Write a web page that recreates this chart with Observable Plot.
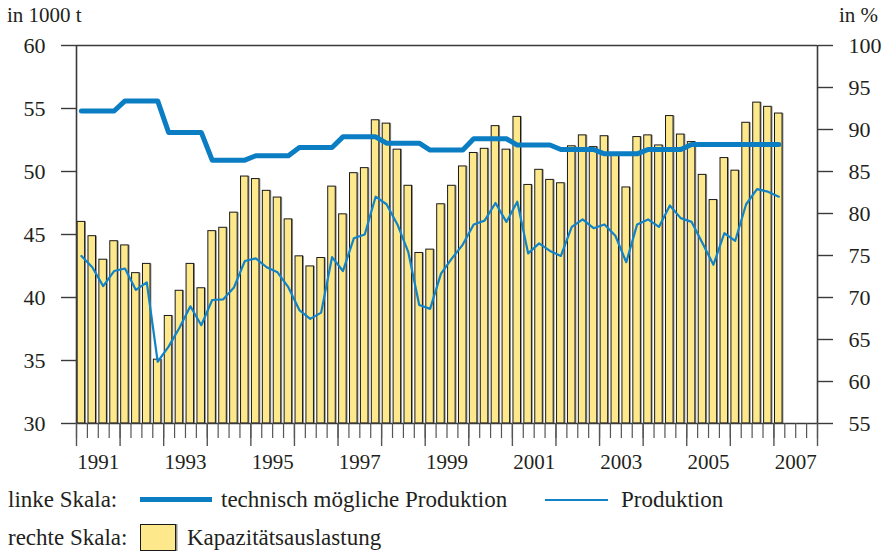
<!DOCTYPE html>
<html><head><meta charset="utf-8">
<script src="https://cdn.jsdelivr.net/npm/d3@7"></script>
<script src="https://cdn.jsdelivr.net/npm/@observablehq/plot@0.6"></script>
<style>
body{margin:0;background:#fff;}
#wrap{position:relative;width:887px;height:551px;font-family:'Liberation Serif','Times New Roman','DejaVu Serif',serif;color:#231f20;overflow:hidden;}
.lab{position:absolute;font-size:21px;line-height:1;white-space:nowrap;}
.leg{position:absolute;font-size:23px;line-height:1;white-space:nowrap;}
.sw{position:absolute;}
svg text{font-family:'Liberation Serif','Times New Roman','DejaVu Serif',serif !important;}
</style></head><body><div id="wrap"></div>
<script>
// ---- data ----
const startYear = 1991;               // first quarter = 1991 Q1, 65 quarters up to 2007 Q1
const yearLabels = ["1991","1993","1995","1997","1999","2001","2003","2005","2007"];
const leftTicks = [30, 35, 40, 45, 50, 55, 60];               // in 1000 t
const rightTicks = [55, 60, 65, 70, 75, 80, 85, 90, 95, 100];  // in %

// Kapazitätsauslastung (right scale, %)
const utilisation = [
  79.0, 77.3, 74.5, 76.7, 76.2, 72.9, 74.0, 62.6,
  67.8, 70.8, 74.0, 71.1, 77.9, 78.3, 80.1, 84.4,
  84.1, 82.7, 81.9, 79.3, 74.9, 73.7, 74.7, 83.2,
  79.9, 84.8, 85.4, 91.1, 90.7, 87.6, 83.3, 75.3,
  75.7, 81.1, 83.3, 85.6, 87.2, 87.7, 90.4, 87.6,
  91.5, 83.4, 85.2, 84.0, 83.6, 88.0, 89.3, 87.9,
  89.2, 87.0, 83.1, 89.1, 89.3, 88.1, 91.6, 89.4,
  88.5, 84.6, 81.6, 86.6, 85.1, 90.8, 93.2, 92.7,
  91.9
];
// Produktion (left scale, 1000 t)
const production = [
  43.3, 42.4, 40.9, 42.1, 42.3, 40.6, 41.2, 34.9,
  36.1, 37.6, 39.3, 37.8, 39.8, 39.85, 40.8, 42.9,
  43.1, 42.4, 42.0, 40.8, 39.0, 38.3, 38.8, 43.2,
  42.1, 44.7, 45.0, 48.0, 47.4, 45.8, 43.6, 39.4,
  39.1, 41.9, 43.1, 44.2, 45.8, 46.1, 47.5, 46.0,
  47.6, 43.5, 44.3, 43.7, 43.3, 45.6, 46.2, 45.5,
  45.8, 44.9, 42.8, 45.8, 46.2, 45.6, 47.3, 46.3,
  46.0, 44.3, 42.6, 45.1, 44.5, 47.4, 48.6, 48.4,
  48.0
];
// technisch mögliche Produktion (left scale, 1000 t)
const capacity = [
  54.8, 54.8, 54.8, 54.8, 55.6, 55.6, 55.6, 55.6,
  53.1, 53.1, 53.1, 53.1, 50.9, 50.9, 50.9, 50.9,
  51.25, 51.25, 51.25, 51.25, 51.9, 51.9, 51.9, 51.9,
  52.75, 52.75, 52.75, 52.75, 52.25, 52.25, 52.25, 52.25,
  51.7, 51.7, 51.7, 51.7, 52.6, 52.6, 52.6, 52.6,
  52.1, 52.1, 52.1, 52.1, 51.75, 51.75, 51.75, 51.75,
  51.4, 51.4, 51.4, 51.4, 51.75, 51.75, 51.75, 51.75,
  52.15, 52.15, 52.15, 52.15, 52.15, 52.15, 52.15, 52.15,
  52.15
];

// ---- helpers ----
const pctToLeft = p => 30 + (p - 55) / 1.5;
const leftToPct = v => 55 + (v - 30) * 1.5;
const rows = utilisation.map((u, i) => ({i, u: pctToLeft(u), prod: production[i], cap: capacity[i]}));
const nQuarters = (2007 - startYear + 1) * 4; // 68

const ink = "#231f20";
const blue = "#0b7ec3";
const yellow = "#fde98c";
const serif = "Liberation Serif, Times New Roman, DejaVu Serif, serif";

const chart = Plot.plot({
  width: 887,
  height: 480,
  marginTop: 45,
  marginBottom: 57,
  marginLeft: 76,
  marginRight: 70,
  style: {fontFamily: serif, fontSize: "21px", color: ink, background: "#fff"},
  x: {domain: [0, nQuarters]},
  y: {domain: [30, 60]},
  marks: [
    // bar shadow + bars
    Plot.rect(rows, {x1: d => d.i + 0.1, x2: d => d.i + 0.79, y1: 30, y2: "u", fill: "#8f8f8f", dx: 1.4}),
    Plot.rect(rows, {x1: d => d.i + 0.1, x2: d => d.i + 0.79, y1: 30, y2: "u", fill: yellow, stroke: "#1a1a1a", strokeWidth: 1}),
    // lines
    Plot.line(rows, {x: d => d.i + 0.45, y: "cap", stroke: blue, strokeWidth: 5, strokeLinejoin: "round"}),
    Plot.line(rows, {x: d => d.i + 0.45, y: "prod", stroke: "#1283c7", strokeWidth: 2.2, strokeLinejoin: "round"}),
    // frame
    Plot.ruleX([0, nQuarters], {stroke: "#3a3a3a", strokeWidth: 1.6}),
    Plot.ruleY([30, 60], {stroke: "#3a3a3a", strokeWidth: 1.6}),
    // left axis
    Plot.axisY(leftTicks, {anchor: "left", tickSize: 15, tickPadding: 16, tickFormat: d => String(d), label: null, stroke: "#3a3a3a", strokeWidth: 1.4, fontFamily: serif, fontSize: 22}),
    // right axis (percent)
    Plot.axisY(rightTicks.map(pctToLeft), {anchor: "right", tickSize: 15, tickPadding: 16, tickFormat: d => String(Math.round(leftToPct(d))), label: null, stroke: "#3a3a3a", strokeWidth: 1.4, fontFamily: serif, fontSize: 22}),
    // quarter ticks and year ticks
    Plot.axisX(d3.range(0, nQuarters + 1), {anchor: "bottom", tickSize: 15, tickFormat: () => "", label: null, stroke: "#555", strokeWidth: 1.2}),
    Plot.axisX(d3.range(0, nQuarters + 1, 4), {anchor: "bottom", tickSize: 23, tickFormat: () => "", label: null, stroke: "#555", strokeWidth: 1.4}),
    // year labels centred in their year
    Plot.axisX(yearLabels.map(y => (+y - startYear) * 4 + 2), {anchor: "bottom", tickSize: 0, tickPadding: 31, tickFormat: d => String(startYear + (d - 2) / 4), label: null, fontFamily: serif, fontSize: 21})
  ]
});

const wrap = document.getElementById("wrap");
wrap.appendChild(chart);

function addDiv(cls, text, left, top, extra) {
  const el = document.createElement("div");
  el.className = cls;
  if (text) el.textContent = text;
  el.style.left = left + "px";
  el.style.top = top + "px";
  if (extra) Object.assign(el.style, extra);
  wrap.appendChild(el);
  return el;
}
// axis titles
addDiv("lab", "in 1000 t", 7, 5);
addDiv("lab", "in %", 839, 5);
// legend
addDiv("leg", "linke Skala:", 8, 488);
addDiv("sw", "", 140, 497, {width: "72px", height: "5px", background: blue});
addDiv("leg", "technisch mögliche Produktion", 221, 488);
addDiv("sw", "", 545, 499, {width: "63px", height: "2px", background: "#1283c7"});
addDiv("leg", "Produktion", 621, 488);
addDiv("leg", "rechte Skala:", 8, 526);
addDiv("sw", "", 140, 524, {width: "34px", height: "25px", background: yellow, border: "1px solid #1a1a1a", boxShadow: "1.5px 0 0 #8f8f8f"});
addDiv("leg", "Kapazitätsauslastung", 187, 526);
</script>
</body></html>
